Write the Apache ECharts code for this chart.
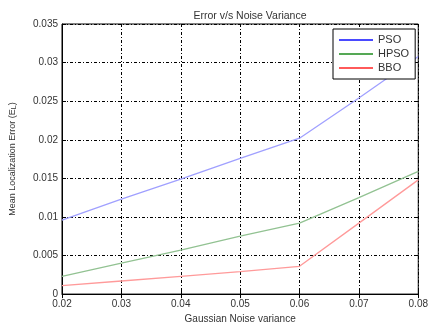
<!DOCTYPE html>
<html>
<head>
<meta charset="utf-8">
<script src="https://cdn.jsdelivr.net/npm/echarts@6/dist/echarts.min.js"></script>
<style>
	html, body { margin: 0; padding: 0; background: #fff; }
	#chart { width: 431px; height: 329px; }
</style>
</head>
<body>
<div id="chart"></div>
<script>
// noise variance (x axis)
var variances = ['0.02', '0.03', '0.04', '0.05', '0.06', '0.07', '0.08'];
var yTicks = [0, 0.005, 0.01, 0.015, 0.02, 0.025, 0.03, 0.035];
// mean localization error
var psoData = [0.0096, 0.0123, 0.0149, 0.0176, 0.0202, 0.0254, 0.0308];
var hpsoData = [0.0023, 0.0040, 0.0057, 0.0075, 0.0092, 0.0125, 0.0159];
var bboData = [0.0011, 0.0017, 0.0023, 0.0029, 0.0036, 0.0092, 0.0148];

window.onload = function() {
	var chart = echarts.init(document.getElementById('chart'));
	var font = 'Liberation Sans';
	var gridDash = {
		show: true,
		lineStyle: { color: '#000', width: 1, type: [3, 2, 1, 2] }
	};
	var option = {
		animation: false,
		title: {
			text: 'Error v/s Noise Variance',
			left: 245,
			top: 6,
			textAlign: 'center',
			textStyle: { fontFamily: font, fontSize: 10.5, fontWeight: 'normal', color: '#333' }
		},
		legend: {
			orient: 'vertical',
			left: 333,
			top: 29,
			backgroundColor: '#fff',
			borderColor: '#000',
			borderWidth: 1,
			borderRadius: 0,
			padding: [4, 6, 4, 6],
			itemGap: 0,
			itemWidth: 34,
			itemHeight: 2,
			icon: 'rect',
			textStyle: { fontFamily: font, fontSize: 11, color: '#333', lineHeight: 14 },
			data: [
				{ name: 'PSO', itemStyle: { color: '#4a4aff' } },
				{ name: 'HPSO', itemStyle: { color: '#55a855' } },
				{ name: 'BBO', itemStyle: { color: '#ff5a5a' } }
			]
		},
		grid: {
			left: 61,
			right: 11,
			top: 24,
			bottom: 31,
			show: true,
			borderColor: '#000',
			borderWidth: 1,
			backgroundColor: '#fff'
		},
		xAxis: [{
			type: 'category',
			data: variances,
			boundaryGap: false,
			name: 'Gaussian Noise variance',
			nameLocation: 'middle',
			nameGap: 17,
			nameTextStyle: { fontFamily: font, fontSize: 10, color: '#333' },
			axisLine: { show: true, lineStyle: { color: '#000' } },
			axisTick: { show: true, inside: true, length: 4, lineStyle: { color: '#000' } },
			axisLabel: { fontFamily: font, fontSize: 10, color: '#333', margin: 5 },
			splitLine: gridDash
		}, {
			type: 'category',
			data: variances,
			boundaryGap: false,
			position: 'top',
			axisLine: { show: false },
			axisTick: { show: true, inside: true, length: 4, lineStyle: { color: '#000' } },
			axisLabel: { show: false },
			splitLine: { show: false }
		}],
		yAxis: [{
			type: 'value',
			min: yTicks[0],
			max: yTicks[yTicks.length - 1],
			interval: 0.005,
			name: '{a|Mean Localization Error (E}{s|L}{a|)}',
			nameLocation: 'middle',
			nameGap: 44,
			nameTextStyle: {
				rich: {
					a: { fontFamily: font, fontSize: 9, color: '#333' },
					s: { fontFamily: font, fontSize: 7, color: '#333', verticalAlign: 'bottom', padding: [4, 0, 0, 0] }
				}
			},
			axisLine: { show: true, lineStyle: { color: '#000' } },
			axisTick: { show: true, inside: true, length: 4, lineStyle: { color: '#000' } },
			axisLabel: { fontFamily: font, fontSize: 10, color: '#333', margin: 4 },
			splitLine: gridDash
		}, {
			type: 'value',
			position: 'right',
			min: yTicks[0],
			max: yTicks[yTicks.length - 1],
			interval: 0.005,
			axisLine: { show: false },
			axisTick: { show: true, inside: true, length: 4, lineStyle: { color: '#000' } },
			axisLabel: { show: false },
			splitLine: { show: false }
		}],
		series: [{
			name: 'PSO',
			type: 'line',
			symbol: 'none',
			data: psoData,
			itemStyle: { color: '#4a4aff' },
			lineStyle: { color: '#a0a0ff', width: 1.3 }
		}, {
			name: 'HPSO',
			type: 'line',
			symbol: 'none',
			data: hpsoData,
			itemStyle: { color: '#55a855' },
			lineStyle: { color: '#92c292', width: 1.3 }
		}, {
			name: 'BBO',
			type: 'line',
			symbol: 'none',
			data: bboData,
			itemStyle: { color: '#ff5a5a' },
			lineStyle: { color: '#ff9a9a', width: 1.3 }
		}]
	};
	chart.setOption(option);
};
</script>
</body>
</html>
